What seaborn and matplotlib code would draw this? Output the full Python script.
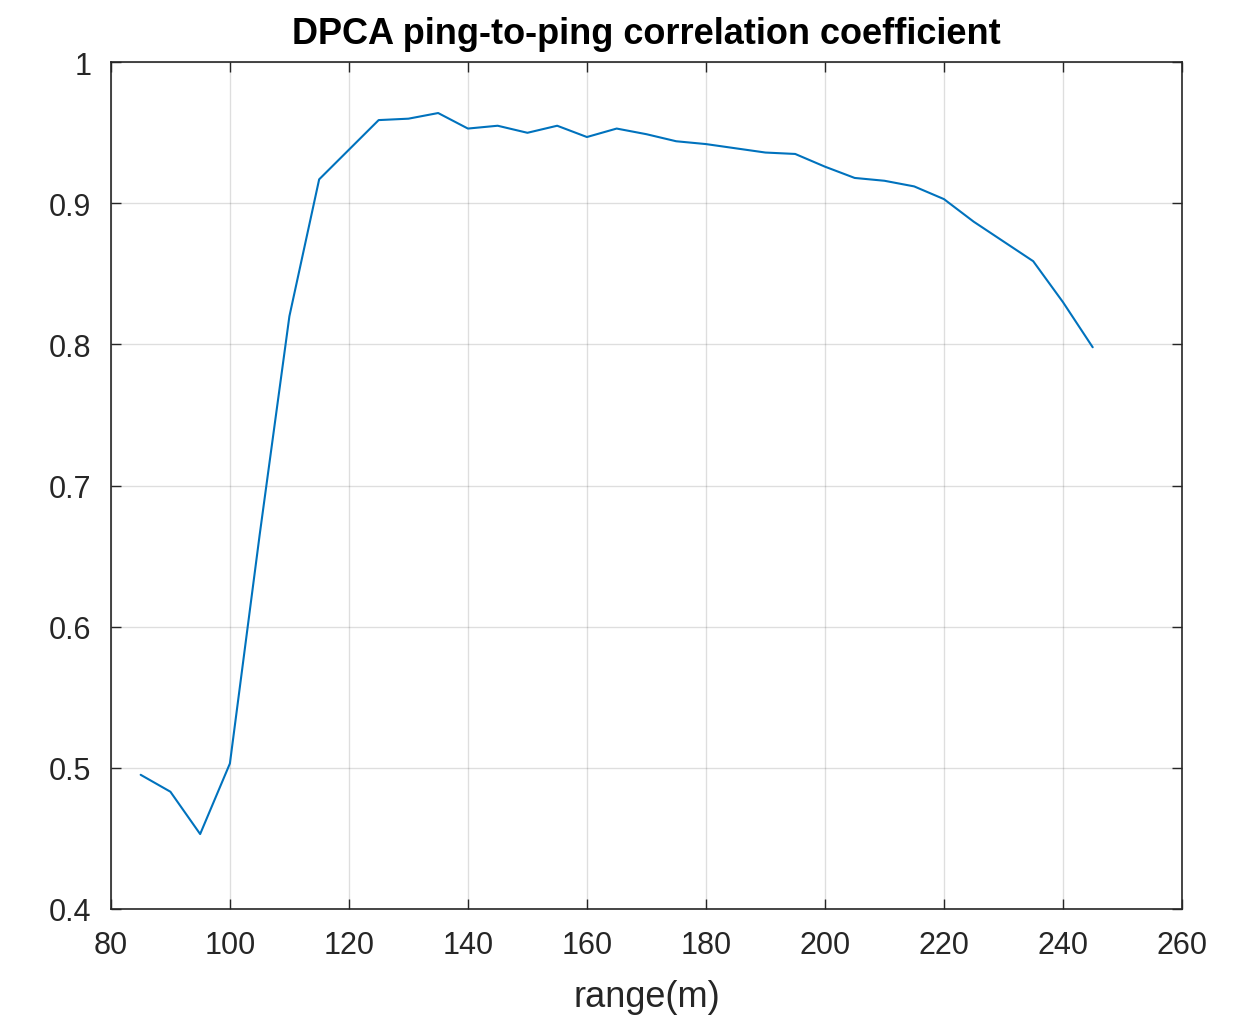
import numpy as np
import pandas as pd
import matplotlib
matplotlib.use("Agg")
import matplotlib.pyplot as plt
import seaborn as sns
from matplotlib.ticker import FuncFormatter

# range (m) and correlation coefficient
range_m = [85, 90, 95, 100, 105, 110, 115, 120, 125, 130, 135, 140, 145, 150,
           155, 160, 165, 170, 175, 180, 185, 190, 195, 200, 205, 210, 215,
           220, 225, 230, 235, 240, 245]
corr = [0.495, 0.483, 0.453, 0.503, 0.665, 0.820, 0.917, 0.938, 0.959, 0.960,
        0.964, 0.953, 0.955, 0.950, 0.955, 0.947, 0.953, 0.949, 0.944, 0.942,
        0.939, 0.936, 0.935, 0.926, 0.918, 0.916, 0.912, 0.903, 0.887, 0.873,
        0.859, 0.830, 0.798]

x_ticks = [80, 100, 120, 140, 160, 180, 200, 220, 240, 260]
y_ticks = [0.4, 0.5, 0.6, 0.7, 0.8, 0.9, 1.0]

df = pd.DataFrame({"range": range_m, "corr": corr})

sns.set_theme(style="white")
plt.rcParams["font.family"] = ["Liberation Sans", "DejaVu Sans"]

fig = plt.figure(figsize=(12.46, 10.2), dpi=100)
ax = fig.add_axes([0.089, 0.108, 0.8596, 0.830])

sns.lineplot(data=df, x="range", y="corr", ax=ax, color="#0072BD",
             linewidth=1.5, estimator=None)

ax.set_xlim(80, 260)
ax.set_ylim(0.4, 1.0)
ax.set_xticks(x_ticks)
ax.set_yticks(y_ticks)
ax.yaxis.set_major_formatter(FuncFormatter(lambda v, p: f"{v:g}"))

ax.grid(True, color="#262626", alpha=0.15, linewidth=1.0)
for s in ax.spines.values():
    s.set_color("#262626")
    s.set_linewidth(1.2)
    s.set_visible(True)

ax.tick_params(axis="both", which="both", direction="in", length=7,
               width=1.0, colors="#262626", labelsize=22,
               top=True, right=True, bottom=True, left=True)
ax.tick_params(axis="x", pad=15)
ax.tick_params(axis="y", pad=14)

ax.set_xlabel("range(m)", fontsize=26, color="#262626", labelpad=14)
ax.set_ylabel("")
ax.set_title("DPCA ping-to-ping correlation coefficient", fontsize=26,
             fontweight="bold", color="black", pad=14)

fig.savefig("out.png", dpi=100, facecolor="white")
